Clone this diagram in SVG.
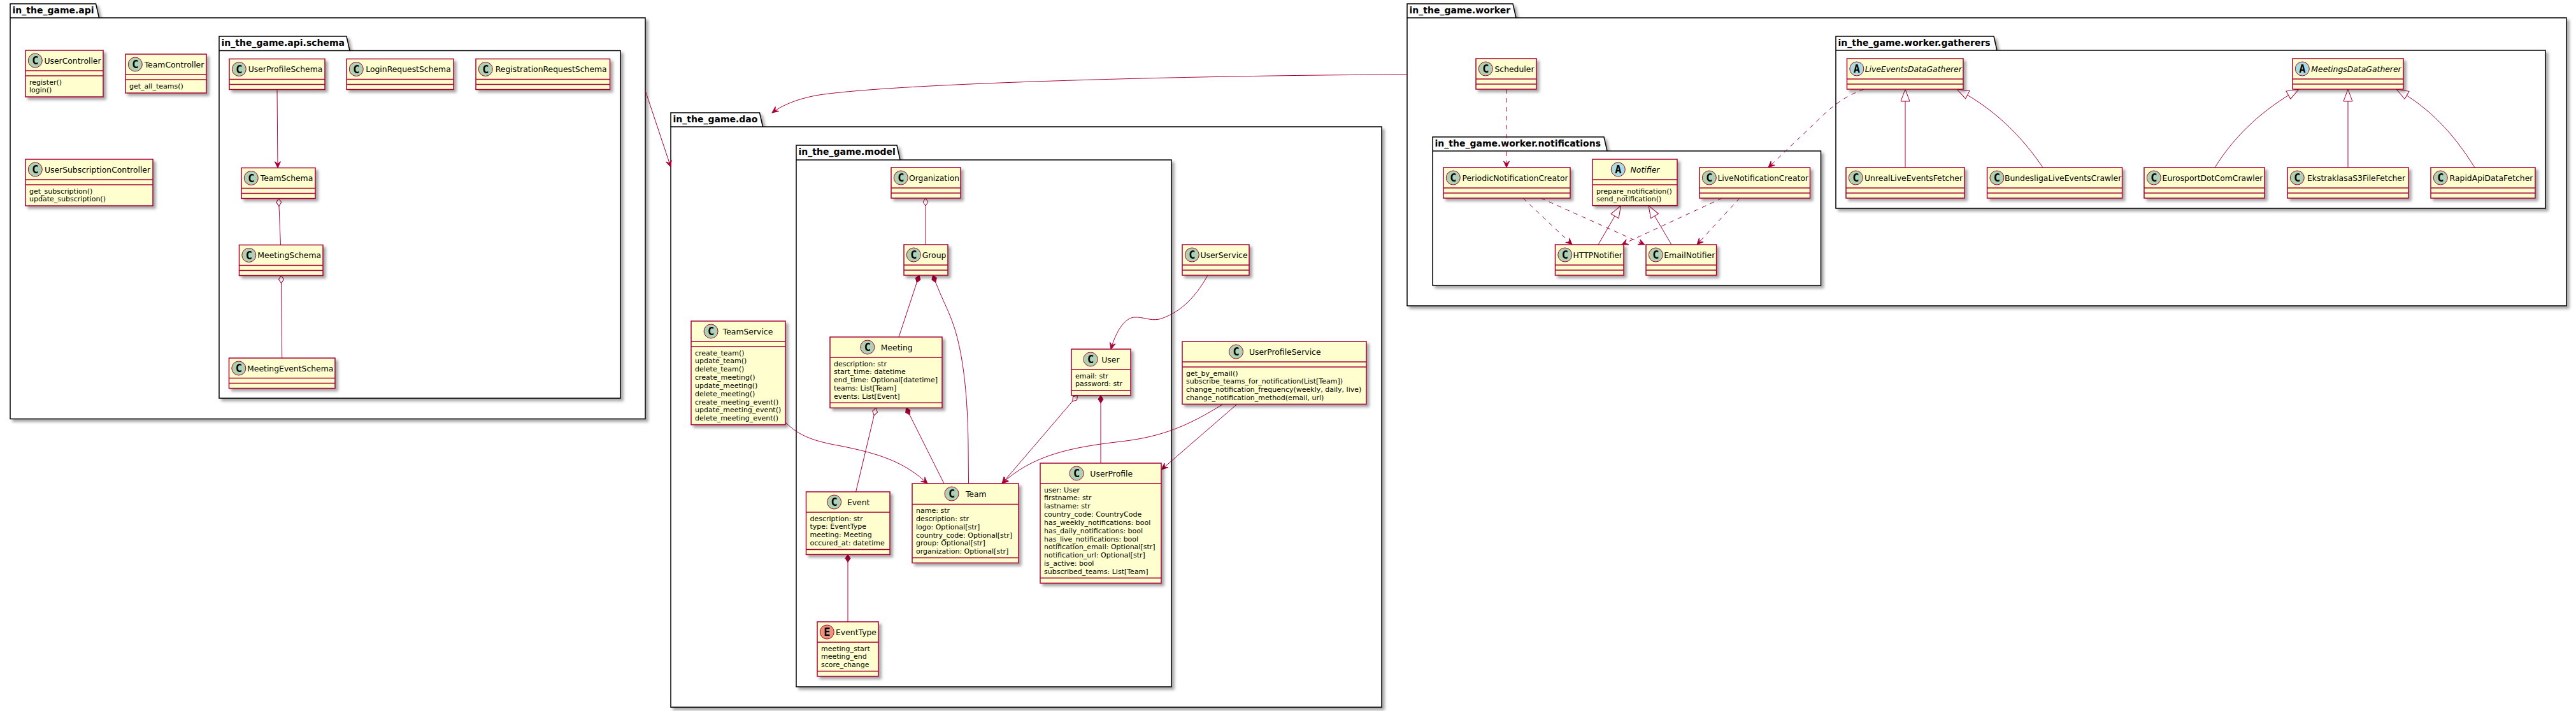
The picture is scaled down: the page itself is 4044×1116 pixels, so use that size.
<svg xmlns="http://www.w3.org/2000/svg" width="4044" height="1116" viewBox="0 0 4044 1116">
<defs>
<style>
.pk{fill:#FFFFFF;stroke:#000000;stroke-width:1.5;filter:url(#sh)}
.pl{fill:none;stroke:#000000;stroke-width:1.5}
.pt{font-family:"DejaVu Sans","Liberation Sans",sans-serif;font-weight:bold;font-size:14px;fill:#000000}
.cb{fill:#FEFECE;stroke:#A80036;stroke-width:1.5;filter:url(#sh)}
.ln{stroke:#A80036;stroke-width:1.5}
.ci{stroke:#A80036;stroke-width:1}
.cC{fill:#ADD1B2}.cA{fill:#A9DCDF}.cE{fill:#EB937F}
.cl{font-family:"DejaVu Sans Mono","Liberation Mono",monospace;font-weight:bold;font-size:17px;text-anchor:middle;fill:#000000}
.cn{font-family:"DejaVu Sans","Liberation Sans",sans-serif;font-size:12.4px;text-anchor:middle;fill:#000000}
.ab{font-style:italic}
.mb{font-family:"DejaVu Sans","Liberation Sans",sans-serif;font-size:11px;fill:#000000}
.ed{fill:none;stroke:#A80036;stroke-width:1}
.da{stroke-dasharray:7 7}
.ar{marker-end:url(#arr)}
.tr{marker-end:url(#tri)}
.dh{marker-start:url(#dmo)}
.df{marker-start:url(#dmf)}
</style>
<filter id="sh" x="-10%" y="-10%" width="130%" height="130%">
<feGaussianBlur in="SourceAlpha" stdDeviation="2"/>
<feColorMatrix type="matrix" values="0 0 0 0 0  0 0 0 0 0  0 0 0 0 0  0 0 0 0.35 0"/>
<feOffset dx="4" dy="4" result="s"/>
<feMerge><feMergeNode in="s"/><feMergeNode in="SourceGraphic"/></feMerge>
</filter>
<marker id="arr" markerUnits="userSpaceOnUse" viewBox="-12 -6 13 12" markerWidth="13" markerHeight="12" refX="0" refY="0" orient="auto">
<path d="M0,0 L-10,-4.5 L-6,0 L-10,4.5 Z" fill="#A80036" stroke="#A80036" stroke-width="1"/>
</marker>
<marker id="tri" markerUnits="userSpaceOnUse" viewBox="-21 -9 22 18" markerWidth="22" markerHeight="18" refX="0" refY="0" orient="auto">
<path d="M0,0 L-19,-7 L-19,7 Z" fill="#FFFFFF" stroke="#A80036" stroke-width="1"/>
</marker>
<marker id="dmo" markerUnits="userSpaceOnUse" viewBox="-1 -5 14 10" markerWidth="14" markerHeight="10" refX="0" refY="0" orient="auto">
<path d="M0,0 L6,-4 L12,0 L6,4 Z" fill="#FFFFFF" stroke="#A80036" stroke-width="1"/>
</marker>
<marker id="dmf" markerUnits="userSpaceOnUse" viewBox="-1 -5 14 10" markerWidth="14" markerHeight="10" refX="0" refY="0" orient="auto">
<path d="M0,0 L6,-4 L12,0 L6,4 Z" fill="#A80036" stroke="#A80036" stroke-width="1"/>
</marker>
</defs>
<rect x="0" y="0" width="4044" height="1116" fill="#FFFFFF"/>

<g id="packages">
<g id="pkg_api">
<path class="pk" d="M16,6 L150.5,6 L155.5,28 L1013,28 L1013,657.5 L16,657.5 Z"/>
<path class="pl" d="M16,28 L155.5,28"/>
<text class="pt" x="19.5" y="20.5">in_the_game.api</text>
</g>
<g id="pkg_api_schema">
<path class="pk" d="M344,57 L544,57 L549,79.4 L974,79.4 L974,625 L344,625 Z"/>
<path class="pl" d="M344,79.4 L549,79.4"/>
<text class="pt" x="347.5" y="71.5">in_the_game.api.schema</text>
</g>
<g id="pkg_dao">
<path class="pk" d="M1053,177 L1192.5,177 L1197.5,199 L2169,199 L2169,1110 L1053,1110 Z"/>
<path class="pl" d="M1053,199 L1197.5,199"/>
<text class="pt" x="1056.5" y="191.5">in_the_game.dao</text>
</g>
<g id="pkg_model">
<path class="pk" d="M1250,228 L1408,228 L1413,251 L1839,251 L1839,1078 L1250,1078 Z"/>
<path class="pl" d="M1250,251 L1413,251"/>
<text class="pt" x="1253.5" y="243">in_the_game.model</text>
</g>
<g id="pkg_worker">
<path class="pk" d="M2209,6 L2375,6 L2380,28 L4029,28 L4029,480 L2209,480 Z"/>
<path class="pl" d="M2209,28 L2380,28"/>
<text class="pt" x="2212.5" y="20.5">in_the_game.worker</text>
</g>
<g id="pkg_notifications">
<path class="pk" d="M2249,215 L2518,215 L2523,237 L2858.5,237 L2858.5,448 L2249,448 Z"/>
<path class="pl" d="M2249,237 L2523,237"/>
<text class="pt" x="2252.5" y="229.5">in_the_game.worker.notifications</text>
</g>
<g id="pkg_gatherers">
<path class="pk" d="M2882,57 L3130,57 L3135,79 L3996,79 L3996,327 L2882,327 Z"/>
<path class="pl" d="M2882,79 L3135,79"/>
<text class="pt" x="2885.5" y="71.5">in_the_game.worker.gatherers</text>
</g>
</g>

<g id="connectors">
<path class="ed ar" d="M435,140.5 L436,263.5"/>
<path class="ed dh" d="M437.5,311.5 L440.5,384.5"/>
<path class="ed dh" d="M441.5,432.5 L442.7,562"/>
<path class="ed ar" d="M1013,142 L1053,262"/>
<path class="ed ar" d="M2209,117 C1900,118 1400,130 1280,150 C1250,156 1228,165 1212,177"/>
<path class="ed dh" d="M1453,311 L1453,384"/>
<path class="ed df" d="M1443,432 L1411,529"/>
<path class="ed df" d="M1464.5,432 C1478,468 1488,485 1495,505 C1508,540 1519,600 1520,700 L1520.5,759"/>
<path class="ed dh" d="M1375,640.3 L1343.6,772"/>
<path class="ed df" d="M1422.6,640.3 L1482,759"/>
<path class="ed df" d="M1331,870.4 L1331,976"/>
<path class="ed dh ar" d="M1691.5,620.7 L1573,759"/>
<path class="ed df" d="M1728,620.7 L1728,727"/>
<path class="ed ar" d="M1233,663 C1255,685 1280,693 1320,700 C1380,712 1420,725 1456,759"/>
<path class="ed ar" d="M1896,432 C1875,470 1850,492 1820,501 C1805,504 1795,497 1780,498 C1765,500 1752,520 1744,548"/>
<path class="ed ar" d="M1920,634.4 C1870,665 1830,685 1760,693 C1680,702 1620,715 1573,759"/>
<path class="ed ar" d="M1942,634.4 L1823.5,737"/>
<path class="ed da ar" d="M2365,140 L2365,263"/>
<path class="ed da ar" d="M2391,311 L2468,384"/>
<path class="ed da ar" d="M2419,311 L2582,384"/>
<path class="ed da ar" d="M2703.6,311 L2546,384"/>
<path class="ed da ar" d="M2731,311 L2664,384"/>
<path class="ed tr" d="M2509,384 L2544.6,322.7"/>
<path class="ed tr" d="M2624,384 L2588,322.7"/>
<path class="ed da ar" d="M2926,140 C2900,150 2885,160 2865,178 L2776,263"/>
<path class="ed tr" d="M2991,263 L2991,140"/>
<path class="ed tr" d="M3207,263 C3175,215 3130,170 3072,140"/>
<path class="ed tr" d="M3477,263 C3510,210 3555,170 3609,140"/>
<path class="ed tr" d="M3686,263 L3686,140"/>
<path class="ed tr" d="M3885,263 C3852,210 3815,170 3762,140"/>
</g>

<g id="UserController">
<rect class="cb" x="40" y="79" width="122" height="73"/>
<line class="ln" x1="40" y1="111" x2="162" y2="111"/><line class="ln" x1="40" y1="119" x2="162" y2="119"/>
<circle class="ci cC" cx="55.3" cy="95" r="11"/><text class="cl" x="55.3" y="101.2">C</text>
<text class="cn" x="114" y="99.5">UserController</text>
<text class="mb"><tspan x="46" y="132.5">register()</tspan><tspan x="46" y="145.35">login()</tspan></text>
</g>
<g id="TeamController">
<rect class="cb" x="197" y="85" width="127" height="61"/>
<line class="ln" x1="197" y1="117" x2="324" y2="117"/><line class="ln" x1="197" y1="125" x2="324" y2="125"/>
<circle class="ci cC" cx="212.3" cy="101" r="11"/><text class="cl" x="212.3" y="107.2">C</text>
<text class="cn" x="273.5" y="105.5">TeamController</text>
<text class="mb"><tspan x="203" y="138.5">get_all_teams()</tspan></text>
</g>
<g id="UserSubscriptionController">
<rect class="cb" x="40" y="250" width="200" height="73"/>
<line class="ln" x1="40" y1="282" x2="240" y2="282"/><line class="ln" x1="40" y1="290" x2="240" y2="290"/>
<circle class="ci cC" cx="55.3" cy="266" r="11"/><text class="cl" x="55.3" y="272.2">C</text>
<text class="cn" x="153" y="270.5">UserSubscriptionController</text>
<text class="mb"><tspan x="46" y="303.5">get_subscription()</tspan><tspan x="46" y="316.35">update_subscription()</tspan></text>
</g>

<g id="UserProfileSchema">
<rect class="cb" x="360" y="92.5" width="150" height="48"/>
<line class="ln" x1="360" y1="124.5" x2="510" y2="124.5"/><line class="ln" x1="360" y1="132.5" x2="510" y2="132.5"/>
<circle class="ci cC" cx="375.3" cy="108.5" r="11"/><text class="cl" x="375.3" y="114.7">C</text>
<text class="cn" x="448" y="113">UserProfileSchema</text>
</g>
<g id="LoginRequestSchema">
<rect class="cb" x="544" y="92.5" width="168" height="48"/>
<line class="ln" x1="544" y1="124.5" x2="712" y2="124.5"/><line class="ln" x1="544" y1="132.5" x2="712" y2="132.5"/>
<circle class="ci cC" cx="559.3" cy="108.5" r="11"/><text class="cl" x="559.3" y="114.7">C</text>
<text class="cn" x="641" y="113">LoginRequestSchema</text>
</g>
<g id="RegistrationRequestSchema">
<rect class="cb" x="747" y="92.5" width="210.5" height="48"/>
<line class="ln" x1="747" y1="124.5" x2="957.5" y2="124.5"/><line class="ln" x1="747" y1="132.5" x2="957.5" y2="132.5"/>
<circle class="ci cC" cx="762.3" cy="108.5" r="11"/><text class="cl" x="762.3" y="114.7">C</text>
<text class="cn" x="865.25" y="113">RegistrationRequestSchema</text>
</g>
<g id="TeamSchema">
<rect class="cb" x="379" y="263.5" width="116" height="48"/>
<line class="ln" x1="379" y1="295.5" x2="495" y2="295.5"/><line class="ln" x1="379" y1="303.5" x2="495" y2="303.5"/>
<circle class="ci cC" cx="394.3" cy="279.5" r="11"/><text class="cl" x="394.3" y="285.7">C</text>
<text class="cn" x="450" y="284">TeamSchema</text>
</g>
<g id="MeetingSchema">
<rect class="cb" x="375.5" y="384.5" width="131.5" height="48"/>
<line class="ln" x1="375.5" y1="416.5" x2="507" y2="416.5"/><line class="ln" x1="375.5" y1="424.5" x2="507" y2="424.5"/>
<circle class="ci cC" cx="390.8" cy="400.5" r="11"/><text class="cl" x="390.8" y="406.7">C</text>
<text class="cn" x="454.25" y="405">MeetingSchema</text>
</g>
<g id="MeetingEventSchema">
<rect class="cb" x="359.5" y="562" width="166.5" height="47.5"/>
<line class="ln" x1="359.5" y1="593.5" x2="526" y2="593.5"/><line class="ln" x1="359.5" y1="601.5" x2="526" y2="601.5"/>
<circle class="ci cC" cx="374.8" cy="578" r="11"/><text class="cl" x="374.8" y="584.2">C</text>
<text class="cn" x="455.75" y="582.5">MeetingEventSchema</text>
</g>

<g id="TeamService">
<rect class="cb" x="1085" y="504" width="148" height="162.65"/>
<line class="ln" x1="1085" y1="536" x2="1233" y2="536"/><line class="ln" x1="1085" y1="544" x2="1233" y2="544"/>
<circle class="ci cC" cx="1116.1" cy="520" r="11"/><text class="cl" x="1116.1" y="526.2">C</text>
<text class="cn" x="1174" y="524.5">TeamService</text>
<text class="mb"><tspan x="1091" y="557.5">create_team()</tspan><tspan x="1091" y="570.35">update_team()</tspan><tspan x="1091" y="583.2">delete_team()</tspan><tspan x="1091" y="596.05">create_meeting()</tspan><tspan x="1091" y="608.9">update_meeting()</tspan><tspan x="1091" y="621.75">delete_meeting()</tspan><tspan x="1091" y="634.6">create_meeting_event()</tspan><tspan x="1091" y="647.45">update_meeting_event()</tspan><tspan x="1091" y="660.3">delete_meeting_event()</tspan></text>
</g>
<g id="UserService">
<rect class="cb" x="1856" y="384" width="105" height="48"/>
<line class="ln" x1="1856" y1="416" x2="1961" y2="416"/><line class="ln" x1="1856" y1="424" x2="1961" y2="424"/>
<circle class="ci cC" cx="1871.3" cy="400" r="11"/><text class="cl" x="1871.3" y="406.2">C</text>
<text class="cn" x="1921.5" y="404.5">UserService</text>
</g>
<g id="UserProfileService">
<rect class="cb" x="1856" y="536" width="289" height="98.4"/>
<line class="ln" x1="1856" y1="568" x2="2145" y2="568"/><line class="ln" x1="1856" y1="576" x2="2145" y2="576"/>
<circle class="ci cC" cx="1940.5" cy="552" r="11"/><text class="cl" x="1940.5" y="558.2">C</text>
<text class="cn" x="2017.25" y="556.5">UserProfileService</text>
<text class="mb"><tspan x="1862" y="589.5">get_by_email()</tspan><tspan x="1862" y="602.35">subscribe_teams_for_notification(List[Team])</tspan><tspan x="1862" y="615.2">change_notification_frequency(weekly, daily, live)</tspan><tspan x="1862" y="628.05">change_notification_method(email, url)</tspan></text>
</g>

<g id="Organization">
<rect class="cb" x="1399" y="263" width="109" height="48"/>
<line class="ln" x1="1399" y1="295" x2="1508" y2="295"/><line class="ln" x1="1399" y1="303" x2="1508" y2="303"/>
<circle class="ci cC" cx="1414.3" cy="279" r="11"/><text class="cl" x="1414.3" y="285.2">C</text>
<text class="cn" x="1466.5" y="283.5">Organization</text>
</g>
<g id="Group">
<rect class="cb" x="1419" y="384" width="69" height="48"/>
<line class="ln" x1="1419" y1="416" x2="1488" y2="416"/><line class="ln" x1="1419" y1="424" x2="1488" y2="424"/>
<circle class="ci cC" cx="1434.3" cy="400" r="11"/><text class="cl" x="1434.3" y="406.2">C</text>
<text class="cn" x="1466.5" y="404.5">Group</text>
</g>
<g id="Meeting">
<rect class="cb" x="1303" y="529" width="176" height="111.25"/>
<line class="ln" x1="1303" y1="561" x2="1479" y2="561"/><line class="ln" x1="1303" y1="632.25" x2="1479" y2="632.25"/>
<circle class="ci cC" cx="1361.8" cy="545" r="11"/><text class="cl" x="1361.8" y="551.2">C</text>
<text class="cn" x="1407.75" y="549.5">Meeting</text>
<text class="mb"><tspan x="1309" y="574.5">description: str</tspan><tspan x="1309" y="587.35">start_time: datetime</tspan><tspan x="1309" y="600.2">end_time: Optional[datetime]</tspan><tspan x="1309" y="613.05">teams: List[Team]</tspan><tspan x="1309" y="625.9">events: List[Event]</tspan></text>
</g>
<g id="User">
<rect class="cb" x="1682" y="548" width="93" height="72.7"/>
<line class="ln" x1="1682" y1="580" x2="1775" y2="580"/><line class="ln" x1="1682" y1="612.7" x2="1775" y2="612.7"/>
<circle class="ci cC" cx="1712" cy="564" r="11"/><text class="cl" x="1712" y="570.2">C</text>
<text class="cn" x="1743.4" y="568.5">User</text>
<text class="mb"><tspan x="1688" y="593.5">email: str</tspan><tspan x="1688" y="606.35">password: str</tspan></text>
</g>
<g id="Team">
<rect class="cb" x="1432" y="759" width="167" height="124.6"/>
<line class="ln" x1="1432" y1="791.5" x2="1599" y2="791.5"/><line class="ln" x1="1432" y1="875.6" x2="1599" y2="875.6"/>
<circle class="ci cC" cx="1494" cy="775" r="11"/><text class="cl" x="1494" y="781.2">C</text>
<text class="cn" x="1532.25" y="779.5">Team</text>
<text class="mb"><tspan x="1438" y="805">name: str</tspan><tspan x="1438" y="817.85">description: str</tspan><tspan x="1438" y="830.7">logo: Optional[str]</tspan><tspan x="1438" y="843.55">country_code: Optional[str]</tspan><tspan x="1438" y="856.4">group: Optional[str]</tspan><tspan x="1438" y="869.25">organization: Optional[str]</tspan></text>
</g>
<g id="Event">
<rect class="cb" x="1265.5" y="772" width="131.5" height="98.4"/>
<line class="ln" x1="1265.5" y1="804" x2="1397" y2="804"/><line class="ln" x1="1265.5" y1="862.4" x2="1397" y2="862.4"/>
<circle class="ci cC" cx="1309.6" cy="788" r="11"/><text class="cl" x="1309.6" y="794.2">C</text>
<text class="cn" x="1347.7" y="792.5">Event</text>
<text class="mb"><tspan x="1271.5" y="817.5">description: str</tspan><tspan x="1271.5" y="830.35">type: EventType</tspan><tspan x="1271.5" y="843.2">meeting: Meeting</tspan><tspan x="1271.5" y="856.05">occured_at: datetime</tspan></text>
</g>
<g id="UserProfile">
<rect class="cb" x="1633" y="727" width="190" height="188.35"/>
<line class="ln" x1="1633" y1="759" x2="1823" y2="759"/><line class="ln" x1="1633" y1="907.35" x2="1823" y2="907.35"/>
<circle class="ci cC" cx="1690.1" cy="743" r="11"/><text class="cl" x="1690.1" y="749.2">C</text>
<text class="cn" x="1744.75" y="747.5">UserProfile</text>
<text class="mb"><tspan x="1639" y="772.5">user: User</tspan><tspan x="1639" y="785.35">firstname: str</tspan><tspan x="1639" y="798.2">lastname: str</tspan><tspan x="1639" y="811.05">country_code: CountryCode</tspan><tspan x="1639" y="823.9">has_weekly_notifications: bool</tspan><tspan x="1639" y="836.75">has_daily_notifications: bool</tspan><tspan x="1639" y="849.6">has_live_notifications: bool</tspan><tspan x="1639" y="862.45">notification_email: Optional[str]</tspan><tspan x="1639" y="875.3">notification_url: Optional[str]</tspan><tspan x="1639" y="888.15">is_active: bool</tspan><tspan x="1639" y="901">subscribed_teams: List[Team]</tspan></text>
</g>
<g id="EventType">
<rect class="cb" x="1283" y="976" width="96" height="85.55"/>
<line class="ln" x1="1283" y1="1008" x2="1379" y2="1008"/><line class="ln" x1="1283" y1="1053.55" x2="1379" y2="1053.55"/>
<circle class="ci cE" cx="1298.3" cy="992" r="11"/><text class="cl" x="1298.3" y="998.2">E</text>
<text class="cn" x="1344" y="996.5">EventType</text>
<text class="mb"><tspan x="1289" y="1021.5">meeting_start</tspan><tspan x="1289" y="1034.35">meeting_end</tspan><tspan x="1289" y="1047.2">score_change</tspan></text>
</g>

<g id="Scheduler">
<rect class="cb" x="2317" y="92" width="95" height="48"/>
<line class="ln" x1="2317" y1="124" x2="2412" y2="124"/><line class="ln" x1="2317" y1="132" x2="2412" y2="132"/>
<circle class="ci cC" cx="2332.3" cy="108" r="11"/><text class="cl" x="2332.3" y="114.2">C</text>
<text class="cn" x="2377.5" y="112.5">Scheduler</text>
</g>
<g id="PeriodicNotificationCreator">
<rect class="cb" x="2266" y="263" width="199" height="48"/>
<line class="ln" x1="2266" y1="295" x2="2465" y2="295"/><line class="ln" x1="2266" y1="303" x2="2465" y2="303"/>
<circle class="ci cC" cx="2281.3" cy="279" r="11"/><text class="cl" x="2281.3" y="285.2">C</text>
<text class="cn" x="2378.5" y="283.5">PeriodicNotificationCreator</text>
</g>
<g id="Notifier">
<rect class="cb" x="2500" y="250" width="133" height="72.7"/>
<line class="ln" x1="2500" y1="282" x2="2633" y2="282"/><line class="ln" x1="2500" y1="290" x2="2633" y2="290"/>
<circle class="ci cA" cx="2540.3" cy="266" r="11"/><text class="cl" x="2540.3" y="272.2">A</text>
<text class="cn ab" x="2582.5" y="270.5">Notifier</text>
<text class="mb"><tspan x="2506" y="303.5">prepare_notification()</tspan><tspan x="2506" y="316.35">send_notification()</tspan></text>
</g>
<g id="LiveNotificationCreator">
<rect class="cb" x="2668" y="263" width="173.5" height="48"/>
<line class="ln" x1="2668" y1="295" x2="2841.5" y2="295"/><line class="ln" x1="2668" y1="303" x2="2841.5" y2="303"/>
<circle class="ci cC" cx="2683.3" cy="279" r="11"/><text class="cl" x="2683.3" y="285.2">C</text>
<text class="cn" x="2767.75" y="283.5">LiveNotificationCreator</text>
</g>
<g id="HTTPNotifier">
<rect class="cb" x="2441.5" y="384" width="107.5" height="48"/>
<line class="ln" x1="2441.5" y1="416" x2="2549" y2="416"/><line class="ln" x1="2441.5" y1="424" x2="2549" y2="424"/>
<circle class="ci cC" cx="2456.8" cy="400" r="11"/><text class="cl" x="2456.8" y="406.2">C</text>
<text class="cn" x="2508.25" y="404.5">HTTPNotifier</text>
</g>
<g id="EmailNotifier">
<rect class="cb" x="2584" y="384" width="110.6" height="48"/>
<line class="ln" x1="2584" y1="416" x2="2694.6" y2="416"/><line class="ln" x1="2584" y1="424" x2="2694.6" y2="424"/>
<circle class="ci cC" cx="2599.3" cy="400" r="11"/><text class="cl" x="2599.3" y="406.2">C</text>
<text class="cn" x="2652.3" y="404.5">EmailNotifier</text>
</g>

<g id="LiveEventsDataGatherer">
<rect class="cb" x="2899.5" y="92" width="182.5" height="48"/>
<line class="ln" x1="2899.5" y1="124" x2="3082" y2="124"/><line class="ln" x1="2899.5" y1="132" x2="3082" y2="132"/>
<circle class="ci cA" cx="2914.8" cy="108" r="11"/><text class="cl" x="2914.8" y="114.2">A</text>
<text class="cn ab" x="3003.75" y="112.5">LiveEventsDataGatherer</text>
</g>
<g id="UnrealLiveEventsFetcher">
<rect class="cb" x="2898" y="263" width="186" height="48"/>
<line class="ln" x1="2898" y1="295" x2="3084" y2="295"/><line class="ln" x1="2898" y1="303" x2="3084" y2="303"/>
<circle class="ci cC" cx="2913.3" cy="279" r="11"/><text class="cl" x="2913.3" y="285.2">C</text>
<text class="cn" x="3004" y="283.5">UnrealLiveEventsFetcher</text>
</g>
<g id="BundesligaLiveEventsCrawler">
<rect class="cb" x="3119.6" y="263" width="212" height="48"/>
<line class="ln" x1="3119.6" y1="295" x2="3331.6" y2="295"/><line class="ln" x1="3119.6" y1="303" x2="3331.6" y2="303"/>
<circle class="ci cC" cx="3134.9" cy="279" r="11"/><text class="cl" x="3134.9" y="285.2">C</text>
<text class="cn" x="3238.6" y="283.5">BundesligaLiveEventsCrawler</text>
</g>
<g id="EurosportDotComCrawler">
<rect class="cb" x="3366" y="263" width="189" height="48"/>
<line class="ln" x1="3366" y1="295" x2="3555" y2="295"/><line class="ln" x1="3366" y1="303" x2="3555" y2="303"/>
<circle class="ci cC" cx="3381.3" cy="279" r="11"/><text class="cl" x="3381.3" y="285.2">C</text>
<text class="cn" x="3473.5" y="283.5">EurosportDotComCrawler</text>
</g>
<g id="MeetingsDataGatherer">
<rect class="cb" x="3599" y="92" width="174" height="48"/>
<line class="ln" x1="3599" y1="124" x2="3773" y2="124"/><line class="ln" x1="3599" y1="132" x2="3773" y2="132"/>
<circle class="ci cA" cx="3614.3" cy="108" r="11"/><text class="cl" x="3614.3" y="114.2">A</text>
<text class="cn ab" x="3699" y="112.5">MeetingsDataGatherer</text>
</g>
<g id="EkstraklasaS3FileFetcher">
<rect class="cb" x="3591" y="263" width="190" height="48"/>
<line class="ln" x1="3591" y1="295" x2="3781" y2="295"/><line class="ln" x1="3591" y1="303" x2="3781" y2="303"/>
<circle class="ci cC" cx="3606.3" cy="279" r="11"/><text class="cl" x="3606.3" y="285.2">C</text>
<text class="cn" x="3699" y="283.5">EkstraklasaS3FileFetcher</text>
</g>
<g id="RapidApiDataFetcher">
<rect class="cb" x="3816" y="263" width="164" height="48"/>
<line class="ln" x1="3816" y1="295" x2="3980" y2="295"/><line class="ln" x1="3816" y1="303" x2="3980" y2="303"/>
<circle class="ci cC" cx="3831.3" cy="279" r="11"/><text class="cl" x="3831.3" y="285.2">C</text>
<text class="cn" x="3911" y="283.5">RapidApiDataFetcher</text>
</g>
</svg>
